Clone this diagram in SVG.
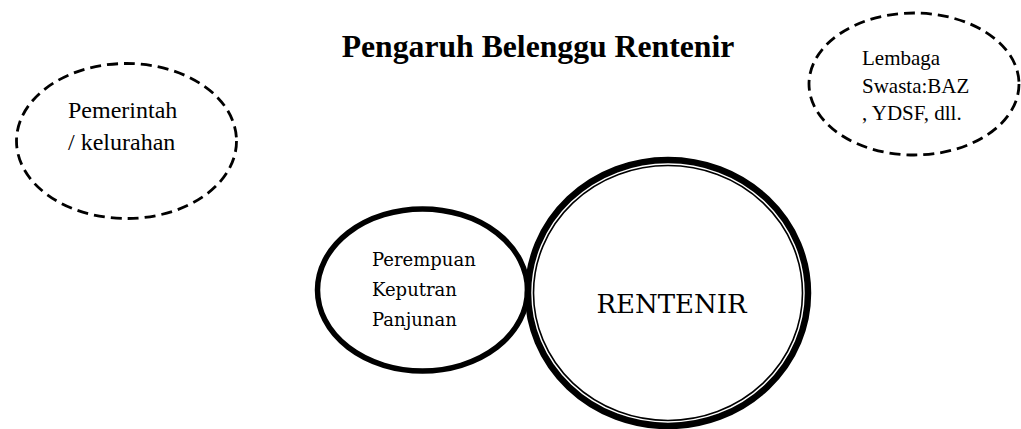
<svg xmlns="http://www.w3.org/2000/svg" width="1021" height="429" viewBox="0 0 1021 429">
<style>
.bg{fill:#fff}
.dash{fill:none;stroke:#000;stroke-width:2.8;stroke-dasharray:11 6}
.thick{fill:#fff;stroke:#000;stroke-width:5.5}
.outer{fill:#fff;stroke:#000;stroke-width:6.5}
.inner{fill:none;stroke:#000;stroke-width:1.6}
.t{font-family:"Liberation Serif","Times New Roman",serif;fill:#000}
.c{font-family:"DejaVu Serif","Liberation Serif",serif;fill:#000}
</style>
<rect class="bg" x="0" y="0" width="1021" height="429"/>
<text class="t" x="538" y="57" font-size="31.7" font-weight="bold" text-anchor="middle">Pengaruh Belenggu Rentenir</text>
<g id="pemerintah">
<ellipse class="dash" cx="126.5" cy="141" rx="110" ry="77.5"/>
<text class="t" font-size="24"><tspan x="68" y="118">Pemerintah</tspan><tspan x="68" y="150">/ kelurahan</tspan></text>
</g>
<g id="lembaga">
<ellipse class="dash" cx="914" cy="84" rx="105" ry="71"/>
<text class="t" font-size="21"><tspan x="862" y="65">Lembaga</tspan><tspan x="862" y="93">Swasta:BAZ</tspan><tspan x="862" y="120">, YDSF, dll.</tspan></text>
</g>
<g id="perempuan">
<ellipse class="thick" cx="422.5" cy="290" rx="105" ry="81"/>
<text class="c" font-size="18"><tspan x="372" y="266">Perempuan</tspan><tspan x="372" y="296">Keputran</tspan><tspan x="372" y="326">Panjunan</tspan></text>
</g>
<g id="rentenir">
<ellipse class="outer" cx="668" cy="293" rx="140" ry="133"/>
<ellipse class="inner" cx="668" cy="293" rx="134.5" ry="127.5"/>
<text class="c" x="671.5" y="313" font-size="26" text-anchor="middle">RENTENIR</text>
</g>
<g id="connectors"></g>
</svg>
